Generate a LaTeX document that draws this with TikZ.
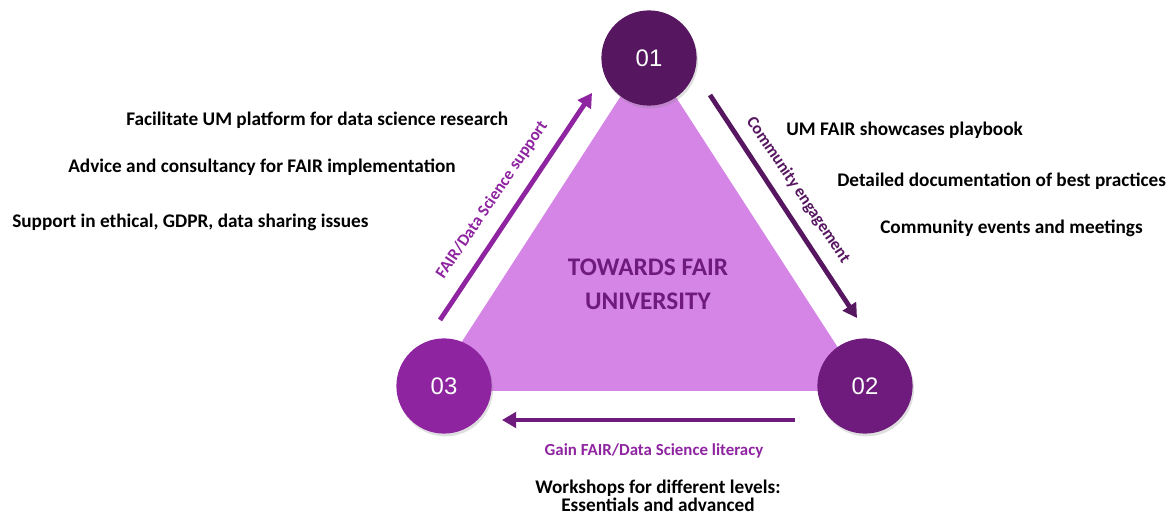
\documentclass[tikz,border=0pt]{standalone}
\usepackage{fontspec}
\setmainfont{Carlito}
\newfontfamily\numfont{Liberation Sans}
\usetikzlibrary{arrows.meta,shadows}

\definecolor{umdark}{HTML}{561660}
\definecolor{ummid}{HTML}{6F1B7E}
\definecolor{umlight}{HTML}{8E24A0}
\definecolor{umtri}{HTML}{D585E5}

\tikzset{
  numcircle/.style={circle,minimum size=2.38cm,inner sep=0pt,text=white,
    font=\numfont\fontsize{17}{17}\selectfont,
    drop shadow={opacity=0.25,shadow xshift=1pt,shadow yshift=-2pt}},
  bigarrow/.style={line width=3.4pt,-{Triangle[length=10pt,width=11pt]}},
  arrowlabel/.style={font=\bfseries\fontsize{12}{12}\selectfont,inner sep=0pt},
  itemtext/.style={font=\bfseries\fontsize{13.7}{13.7}\selectfont,inner sep=0pt}
}

\begin{document}
\begin{tikzpicture}[x=0.025cm,y=0.025cm]
      \useasboundingbox (0,0) rectangle (1170,519);
      % central triangle
      \fill[umtri] (648,465) -- (430,128) -- (866,128) -- cycle;
      \node[text=ummid,align=center,font=\bfseries\fontsize{18}{24}\selectfont] (title) at (648,235) {TOWARDS FAIR\\UNIVERSITY};
      % corner circles
      \node[numcircle,fill=umdark] (c1) at (649,461) {01};
      \node[numcircle,fill=ummid] (c2) at (865,133) {02};
      \node[numcircle,fill=umlight] (c3) at (444,133) {03};
      % arrows between corners
      \coordinate (a3) at (440,199);
      \coordinate (a1) at (592,426);
      \coordinate (b1) at (710,424);
      \coordinate (b2) at (857,201);
      \coordinate (d2) at (795,99);
      \coordinate (d3) at (502,99);
      \draw[bigarrow,umlight] (a3) -- (a1);
      \draw[bigarrow,umdark] (b1) -- (b2);
      \draw[bigarrow,ummid,line width=2.9pt] (d2) -- (d3);
      \node[arrowlabel,text=umlight,rotate=56] (l31) at (492,319) {FAIR/Data Science support};
      \node[arrowlabel,text=umdark,rotate=-56] (l12) at (798,329) {Community engagement};
      \node[arrowlabel,text=umlight] (l23) at (654,68) {Gain FAIR/Data Science literacy};
      % items on the left
      \node[itemtext,anchor=west] (t1) at (126,399) {Facilitate UM platform for data science research};
      \node[itemtext,anchor=west] (t2) at (68,352) {Advice and consultancy for FAIR implementation};
      \node[itemtext,anchor=west] (t3) at (12,297) {Support in ethical, GDPR, data sharing issues};
      % items on the right
      \node[itemtext,anchor=west] (r1) at (786,389) {UM FAIR showcases playbook};
      \node[itemtext,anchor=west] (r2) at (837,338) {Detailed documentation of best practices};
      \node[itemtext,anchor=west] (r3) at (880,291) {Community events and meetings};
      % items at the bottom
      \node[itemtext,align=center,font=\bfseries\fontsize{13.7}{13}\selectfont] (w1) at (658,23) {Workshops for different levels:\\Essentials and advanced};
\end{tikzpicture}
\end{document}
